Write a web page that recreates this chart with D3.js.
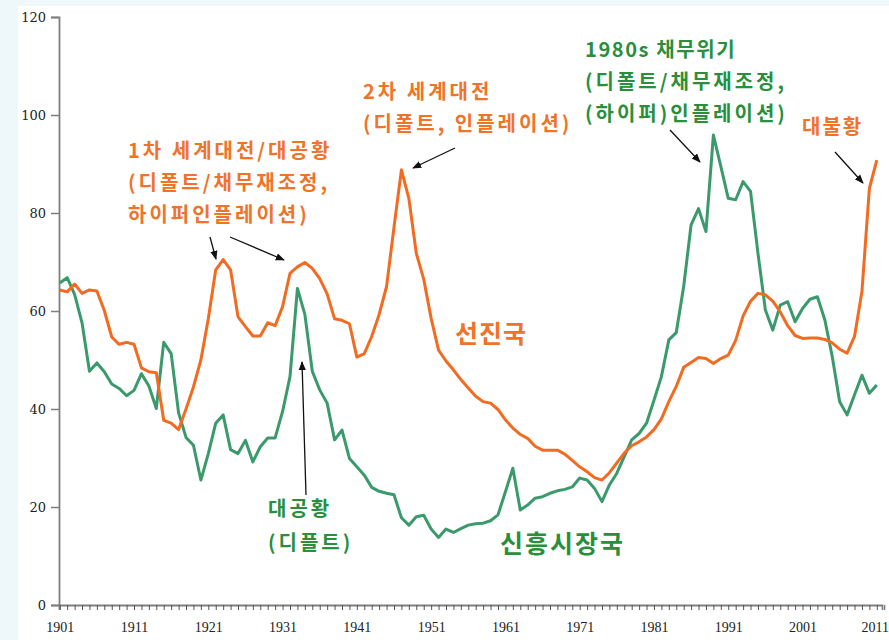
<!DOCTYPE html>
<html><head><meta charset="utf-8">
<script src="https://cdn.jsdelivr.net/npm/d3@7/dist/d3.min.js"></script>
<style>
html,body{margin:0;padding:0;background:#eef7fa;}
svg{display:block;}
</style></head>
<body>
<svg id="chart" width="889" height="640"></svg>
<script>
const years = d3.range(1901, 2012);
const advanced = [
64.3,63.9,65.5,63.6,64.3,64.1,60.1,54.7,53.2,53.6,
53.2,48.4,47.6,47.4,37.7,37.1,35.8,40.0,44.5,50.0,
58.4,68.4,70.5,68.4,58.8,56.8,54.9,54.9,57.6,57.0,
60.9,67.7,69.0,69.9,68.7,66.6,63.5,58.4,58.1,57.4,
50.6,51.3,54.8,59.3,65.0,77.1,88.8,83.0,71.8,66.5,
58.5,52.0,49.8,48.0,46.0,44.3,42.6,41.5,41.2,39.9,
37.8,36.1,34.8,34.0,32.4,31.6,31.6,31.6,30.8,29.5,
28.2,27.2,26.0,25.5,27.0,29.0,31.0,32.5,33.3,34.3,
35.8,38.0,41.5,44.6,48.5,49.5,50.5,50.3,49.3,50.3,
51.0,54.0,59.0,62.0,63.6,63.3,62.0,59.8,57.0,55.0,
54.4,54.5,54.5,54.2,53.5,52.2,51.4,54.8,64.0,85.0,
90.8];
const emerging = [
65.7,66.8,63.4,57.6,47.7,49.4,47.6,45.1,44.2,42.7,
43.8,47.2,44.7,40.1,53.6,51.3,39.2,34.2,32.6,25.5,
30.9,37.1,38.8,31.7,30.9,33.6,29.2,32.3,34.1,34.1,
39.5,46.6,64.6,59.3,47.7,43.9,41.2,33.7,35.7,29.9,
28.2,26.5,24.0,23.2,22.8,22.5,17.8,16.3,18.0,18.3,
15.5,13.8,15.5,14.8,15.6,16.3,16.6,16.7,17.2,18.4,
23.1,27.9,19.4,20.4,21.8,22.1,22.8,23.3,23.6,24.1,
25.9,25.5,23.8,21.1,24.5,26.9,30.3,33.7,35.0,37.1,
41.8,46.6,54.1,55.6,65.0,77.6,80.9,76.2,95.9,89.5,
83.0,82.7,86.4,84.4,71.8,60.2,56.1,61.2,61.9,57.8,
60.5,62.4,62.9,58.2,50.7,41.5,38.8,42.9,46.9,43.2,
44.9];
const yTicks = [0,20,40,60,80,100,120];
const xLabelYears = [1901,1911,1921,1931,1941,1951,1961,1971,1981,1991,2001,2011];

const ORANGE = "#f26b21", ORANGE_T = "#f07328";
const GREEN = "#3a9a6c", GREEN_T = "#2a8f3c";

const svg = d3.select("#chart");
svg.append("rect").attr("x",18).attr("y",6).attr("width",871).attr("height",634).attr("fill","#ffffff");

const x = d3.scaleLinear().domain([1900.9, 2011.7]).range([59, 882]);
const y = d3.scaleLinear().domain([0,120]).range([605,17]);

const defs = svg.append("defs");
defs.append("marker").attr("id","arr").attr("viewBox","0 0 10 10")
  .attr("refX",9).attr("refY",5).attr("markerWidth",7).attr("markerHeight",7)
  .attr("orient","auto").append("path").attr("d","M0,1 L10,5 L0,9 Z").attr("fill","#111");

// Y axis
const yAxis = svg.append("g").attr("transform","translate(59,0)")
  .call(d3.axisLeft(y).tickValues(yTicks).tickSize(8).tickPadding(5));
yAxis.select(".domain").attr("stroke","#7f7f7f").attr("stroke-width",1.8);
yAxis.selectAll(".tick line").attr("stroke","#7f7f7f").attr("stroke-width",1.5);
yAxis.selectAll("text").attr("font-family","'DejaVu Serif', serif").attr("font-size",13).attr("fill","#222");

// X axis minor ticks
const xMinor = svg.append("g").attr("transform","translate(0,605)")
  .call(d3.axisBottom(x).tickValues(d3.range(1901,2013)).tickSize(5).tickFormat(""));
xMinor.select(".domain").attr("stroke","#7f7f7f").attr("stroke-width",1.8);
xMinor.selectAll(".tick line").attr("stroke","#555").attr("stroke-width",1);
// X labels
const xLab = svg.append("g").attr("transform","translate(0,605)")
  .call(d3.axisBottom(x).tickValues(xLabelYears).tickSize(0).tickPadding(17).tickFormat(d3.format("d")));
xLab.select(".domain").remove();
xLab.selectAll("text").attr("font-family","'Liberation Serif', serif").attr("font-size",14).attr("fill","#222");
xLab.selectAll("text").filter(d=>d===2011).attr("dx",-2);

const line = d3.line().x((d,i)=>x(years[i])).y(d=>y(d));
svg.append("path").datum(emerging).attr("d",line).attr("fill","none")
  .attr("stroke",GREEN).attr("stroke-width",3).attr("stroke-linejoin","round");
svg.append("path").datum(advanced).attr("d",line).attr("fill","none")
  .attr("stroke",ORANGE).attr("stroke-width",3).attr("stroke-linejoin","round");

function label(lines, xPos, yFirst, color, size, spacings, lh){
  const t = svg.append("text").attr("font-family","'Noto Sans CJK KR', sans-serif")
    .attr("font-weight",700).attr("font-size",size).attr("fill",color);
  lines.forEach((s,i)=>{
    t.append("tspan").attr("x",xPos).attr("y",yFirst+i*lh).attr("dominant-baseline","central")
      .attr("letter-spacing",spacings[i]).text(s);
  });
}
label(["1차 세계대전/대공황","(디폴트/채무재조정,","하이퍼인플레이션)"],128,149,ORANGE_T,20,[3,3,3],32);
label(["2차 세계대전","(디폴트, 인플레이션)"],363,90,ORANGE_T,20,[3,3],32);
label(["1980s 채무위기","(디폴트/채무재조정,","(하이퍼)인플레이션)"],585,48,GREEN_T,20,[1.6,3,3],32);
label(["대불황"],802,125,ORANGE_T,20,[2],32);
label(["선진국"],455,332,ORANGE_T,25,[1],32);
label(["신흥시장국"],500,542,GREEN_T,25,[2],32);
label(["대공황","(디플트)"],268,507,GREEN_T,20,[3,3],34);

const arrows = [
  [210,237,216,259],[230,237,284,260],[455,148,413,168],
  [670,130,700,162],[835,152,863,183],[306,495,302,362]
];
svg.append("g").selectAll("line").data(arrows).join("line")
  .attr("x1",d=>d[0]).attr("y1",d=>d[1]).attr("x2",d=>d[2]).attr("y2",d=>d[3])
  .attr("stroke","#111").attr("stroke-width",1.3).attr("marker-end","url(#arr)");
</script>
</body></html>
